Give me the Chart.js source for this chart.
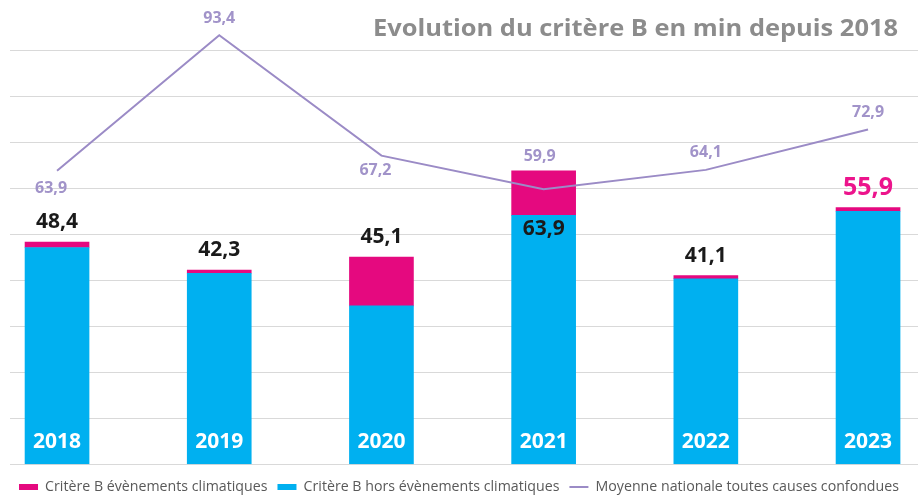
<!DOCTYPE html>
<html>
<head>
<meta charset="utf-8">
<script src="https://cdn.jsdelivr.net/npm/chart.js@4/dist/chart.umd.min.js"></script>
<style>
  html, body { margin: 0; padding: 0; background: #fff; overflow: hidden; width: 918px; height: 496px; }
  #wrap { position: relative; width: 918px; height: 504px; }
</style>
</head>
<body>
<div id="wrap"><canvas id="c" width="918" height="504"></canvas></div>
<script>
// ---- data ----
const years = [2018, 2019, 2020, 2021, 2022, 2023];
const climatiques = [1.2, 0.7, 10.6, 9.7, 0.7, 0.8];
const horsClimatiques = [47.2, 41.6, 34.5, 54.2, 40.4, 55.1];
const moyenneNationale = [63.9, 93.4, 67.2, 59.9, 64.1, 72.9];
const seriesNames = [
  'Critère B évènements climatiques',
  'Critère B hors évènements climatiques',
  'Moyenne nationale toutes causes confondues'
];
const titleText = 'Evolution du critère B en min depuis 2018';

const PINK = '#E5097F';
const BLUE = '#00B0F0';
const LINE = '#9B8BC6';
const LINE_LABEL = '#A193C9';
const FONT = "'Open Sans', 'DejaVu Sans', sans-serif";

const fmt = v => v.toFixed(1).replace('.', ',');

// label placement styles (not data)
const lineLabelOffsets = [
  {dx: -6, dy: 18}, {dx: 0, dy: -17}, {dx: -6, dy: 15},
  {dx: -4, dy: -33}, {dx: 0, dy: -17}, {dx: 0, dy: -17}
];
const totalLabelStyles = [
  {}, {}, {}, {inside: true}, {}, {color: '#EC148C', size: 25}
];

const labelsPlugin = {
  id: 'labelsPlugin',
  afterDatasetsDraw(chart) {
    const ctx = chart.ctx;
    const xS = chart.scales.x, yS = chart.scales.y;
    ctx.save();
    ctx.textAlign = 'center';
    ctx.textBaseline = 'middle';
    // year labels inside bars
    ctx.fillStyle = '#FFFFFF';
    ctx.font = "bold 21px " + FONT;
    years.forEach((yr, i) => {
      ctx.fillText(String(yr), xS.getPixelForValue(yr), yS.getPixelForValue(0) - 22);
    });
    // totals
    years.forEach((yr, i) => {
      const total = horsClimatiques[i] + climatiques[i];
      const st = totalLabelStyles[i];
      ctx.fillStyle = st.color || '#1A1A1A';
      ctx.font = "bold " + (st.size || 21) + "px " + FONT;
      const x = xS.getPixelForValue(yr);
      const y = st.inside ? yS.getPixelForValue(horsClimatiques[i]) + 14
                          : yS.getPixelForValue(total) - 20;
      ctx.fillText(fmt(total), x, y);
    });
    // line labels
    ctx.fillStyle = LINE_LABEL;
    ctx.font = "bold 16px " + FONT;
    years.forEach((yr, i) => {
      const o = lineLabelOffsets[i];
      ctx.fillText(fmt(moyenneNationale[i]), xS.getPixelForValue(yr) + o.dx,
                   yS.getPixelForValue(moyenneNationale[i]) + o.dy);
    });
    // title
    ctx.fillStyle = '#8C8C8C';
    ctx.font = "bold 24px " + FONT;
    ctx.textAlign = 'right';
    ctx.textBaseline = 'alphabetic';
    const w = ctx.measureText(titleText).width;
    const target = 525;
    const sx = target / w;
    ctx.translate(898, 35.5);
    ctx.scale(sx, 1);
    ctx.fillText(titleText, 0, 0);
    ctx.restore();
  }
};

const toXY = arr => years.map((yr, i) => ({x: yr, y: arr[i]}));

new Chart(document.getElementById('c'), {
  data: {
    datasets: [
      {
        type: 'line', label: seriesNames[2], data: toXY(moyenneNationale),
        borderColor: LINE, backgroundColor: LINE, borderWidth: 2,
        pointRadius: 0, tension: 0, stack: 'line', fill: false
      },
      {
        type: 'bar', label: seriesNames[1], data: toXY(horsClimatiques),
        backgroundColor: BLUE, borderWidth: 0, barThickness: 64, stack: 'bars'
      },
      {
        type: 'bar', label: seriesNames[0], data: toXY(climatiques),
        backgroundColor: PINK, borderWidth: 0, barThickness: 64, stack: 'bars'
      }
    ]
  },
  options: {
    responsive: false,
    animation: false,
    layout: { padding: { left: 0, right: 0, top: 5, bottom: 0 } },
    scales: {
      x: {
        type: 'linear', display: false, stacked: true, offset: false,
        min: 2017.71, max: 2023.308, bounds: 'ticks'
      },
      y: {
        stacked: true, min: 0, max: 100,
        afterFit: s => { s.width = 10; },
        ticks: { display: false, stepSize: 10 },
        border: { display: false },
        grid: {
          drawTicks: false,
          color: c => (c.tick && c.tick.value === 100) ? 'rgba(0,0,0,0)' : '#D9D9D9',
          lineWidth: 1
        }
      }
    },
    plugins: {
      tooltip: { enabled: false },
      legend: {
        position: 'bottom',
        title: { display: true, text: ' ', font: { size: 1, lineHeight: 1 }, padding: { top: 2, bottom: 2.5 } },
        labels: {
          color: '#595959',
          font: { family: FONT, size: 14.2 },
          padding: 10,
          boxHeight: 6,
          usePointStyle: true,
          pointStyleWidth: 19,
          generateLabels(chart) {
            const ds = chart.data.datasets;
            return [2, 1, 0].map(i => ({
              text: ds[i].label,
              fillStyle: i === 0 ? LINE : ds[i].backgroundColor,
              strokeStyle: i === 0 ? LINE : ds[i].backgroundColor,
              lineWidth: i === 0 ? 2 : 0,
              pointStyle: i === 0 ? 'line' : 'rect',
              fontColor: '#595959',
              hidden: false,
              datasetIndex: i
            }));
          }
        }
      }
    }
  },
  plugins: [labelsPlugin]
});
</script>
</body>
</html>
